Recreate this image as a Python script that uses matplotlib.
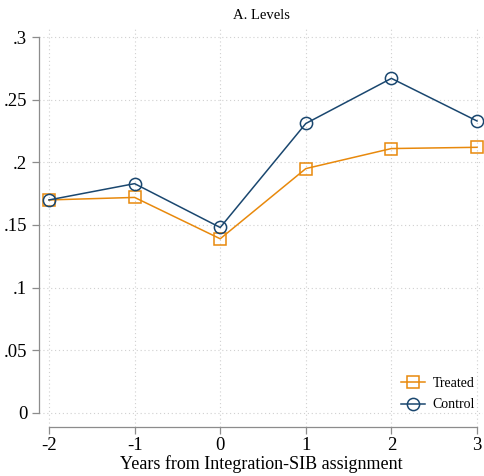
"""Levels of the outcome by years from Integration-SIB assignment, treated vs control."""

import matplotlib

matplotlib.use("Agg")
import matplotlib.pyplot as plt

years = [-2, -1, 0, 1, 2, 3]
treated = [0.170, 0.172, 0.139, 0.195, 0.211, 0.212]
control = [0.170, 0.183, 0.148, 0.231, 0.267, 0.233]
yticks = [0, 0.05, 0.1, 0.15, 0.2, 0.25, 0.3]
ytick_labels = ["0", ".05", ".1", ".15", ".2", ".25", ".3"]

plt.rcParams["font.family"] = ["Liberation Serif", "DejaVu Serif"]

W, H = 484, 476
fig = plt.figure(figsize=(W / 100, H / 100), dpi=100)
ax = fig.add_axes([39 / W, (H - 427) / H, (483 - 39) / W, (427 - 29) / H])

navy = "#1a476f"
orange = "#e8890c"

ax.plot(years, treated, color=orange, lw=1.1, marker="s", ms=8.5,
        mfc="none", mec=orange, mew=1.1, label="Treated", zorder=3)
ax.plot(years, control, color=navy, lw=1.1, marker="o", ms=8.8,
        mfc="none", mec=navy, mew=1.1, label="Control", zorder=3)

ax.set_xlim(-2.117, 3.07)
ax.set_ylim(-0.0112, 0.3064)
ax.set_xticks(years)
ax.set_xticklabels([str(y) for y in years])
ax.set_yticks(yticks)
ax.set_yticklabels(ytick_labels)

ax.grid(True, color="#d0d0d0", linestyle=(0, (1, 2.5)), lw=0.8)
ax.set_axisbelow(True)

for side in ("top", "right"):
    ax.spines[side].set_visible(False)
for side in ("left", "bottom"):
    ax.spines[side].set_color("#8c8c8c")
    ax.spines[side].set_linewidth(0.9)
ax.spines["left"].set_bounds(0, 0.3)
ax.spines["bottom"].set_bounds(-2, 3)
ax.tick_params(colors="#8c8c8c", labelcolor="black", labelsize=13.5,
               length=5, width=0.9)
ax.tick_params(axis="x", pad=2)

ax.set_xlabel("Years from Integration-SIB assignment", fontsize=13, labelpad=1)
ax.set_title("A. Levels", fontsize=10.5, pad=7)

ax.legend(loc="lower right", frameon=False, fontsize=10,
          handlelength=1.7, handletextpad=0.6, labelspacing=0.6,
          borderaxespad=0.0, bbox_to_anchor=(0.995, 0.025))

fig.savefig("out.png", dpi=100)
